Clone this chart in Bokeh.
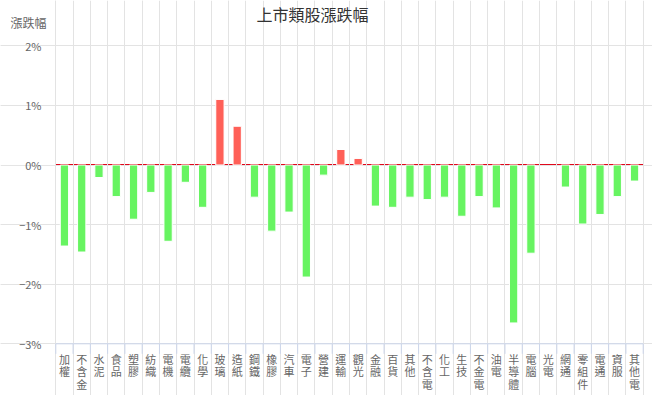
from bokeh.plotting import figure
from bokeh.models import FixedTicker, Range1d, Grid
from bokeh.core.properties import value
from bokeh.embed import file_html
from bokeh.resources import INLINE

categories = ["加權", "不含金", "水泥", "食品", "塑膠", "紡織", "電機", "電纜", "化學",
              "玻璃", "造紙", "鋼鐵", "橡膠", "汽車", "電子", "營建", "運輸", "觀光",
              "金融", "百貨", "其他", "不含電", "化工", "生技", "不金電", "油電",
              "半導體", "電腦", "光電", "網通", "零組件", "電通", "資服", "其他電"]
changes = [-1.36, -1.46, -0.21, -0.53, -0.91, -0.46, -1.28, -0.29, -0.71,
           1.10, 0.65, -0.54, -1.11, -0.79, -1.88, -0.17, 0.26, 0.11,
           -0.69, -0.71, -0.54, -0.58, -0.54, -0.86, -0.53, -0.72,
           -2.65, -1.48, 0.0, -0.37, -0.99, -0.83, -0.53, -0.27]
y_ticks = [-3, -2, -1, 0, 1, 2]
y_tick_labels = ["\u22123%", "\u22122%", "\u22121%", "0%", "1%", "2%"]
title_text = "上市類股漲跌幅"
y_title = "漲跌幅"

UP = "#ff6058"
DOWN = "#67f461"
ZERO = "#e0081c"
GRID = "#e3e3e3"
AXIS = "#ccd6eb"
CJK = "Noto Sans CJK TC"

# canvas layout (pixels)
W, H = 652, 395
PL, PR, PT, PB = 55.3, 642.7, 45.3, 343.3

n = len(categories)
ymin, ymax = y_ticks[0], y_ticks[-1]
xpx = (PR - PL) / n
ypx = (PB - PT) / (ymax - ymin)


def dx(px):
    return (px - PL) / xpx


def dy(py):
    return ymax - (py - PT) / ypx


p = figure(width=W, height=H, x_range=Range1d(dx(0), dx(W)), y_range=Range1d(dy(H), dy(0)),
           output_backend="svg", toolbar_location=None, min_border=0,
           x_axis_location=None, y_axis_location=None, title=None)
p.outline_line_color = None

# zero line (drawn beneath the grid, which cuts it at the category boundaries)
p.segment(x0=[0], y0=[0], x1=[n], y1=[0], line_color=ZERO, line_width=2, level="image")

# grids limited to the plot area
p.add_layout(Grid(dimension=0, ticker=FixedTicker(ticks=list(range(n + 1))),
                  bounds=(ymin, ymax), grid_line_color=GRID))
p.add_layout(Grid(dimension=1, ticker=FixedTicker(ticks=[t for t in y_ticks if t != 0]),
                  bounds=(0, n), grid_line_color=GRID))

# bars
xs = [i + 0.5 for i in range(n)]
colors = [UP if v > 0 else DOWN for v in changes]
borders = ["white" if v != 0 else None for v in changes]
p.vbar(x=xs, top=changes, bottom=0, width=0.48, fill_color=colors,
       line_color=borders, line_width=1)

# x axis line and category boundary ticks
p.segment(x0=[0], y0=[ymin], x1=[n], y1=[ymin], line_color=AXIS, line_width=1)
bounds_x = list(range(n + 1))
p.segment(x0=bounds_x, y0=[ymin] * (n + 1), x1=bounds_x, y1=[dy(PB + 10)] * (n + 1),
          line_color=AXIS, line_width=1)

# category labels, written vertically one character per row
lx, ly, lt = [], [], []
for i, c in enumerate(categories):
    for j, ch in enumerate(c):
        lx.append(i + 0.5)
        ly.append(dy(358.3 + 12.5 * j))
        lt.append(ch)
p.text(x=lx, y=ly, text=lt, text_font=value(CJK), text_font_size="11px",
       text_color="#666666", text_align="center", text_baseline="middle")

# y tick labels
p.text(x=[dx(41)] * len(y_ticks), y=y_ticks, text=y_tick_labels, text_font=value(CJK),
       text_font_size="11px", text_color="#666666", text_align="right",
       text_baseline="middle")

# titles
p.text(x=[dx(312)], y=[dy(13.5)], text=[title_text], text_font=value(CJK),
       text_font_size="16px", text_color="#333333", text_align="center",
       text_baseline="middle")
p.text(x=[dx(10)], y=[dy(22.3)], text=[y_title], text_font=value(CJK),
       text_font_size="12px", text_color="#666666", text_align="left",
       text_baseline="middle")

open("out.html", "w").write(file_html(p, INLINE))
